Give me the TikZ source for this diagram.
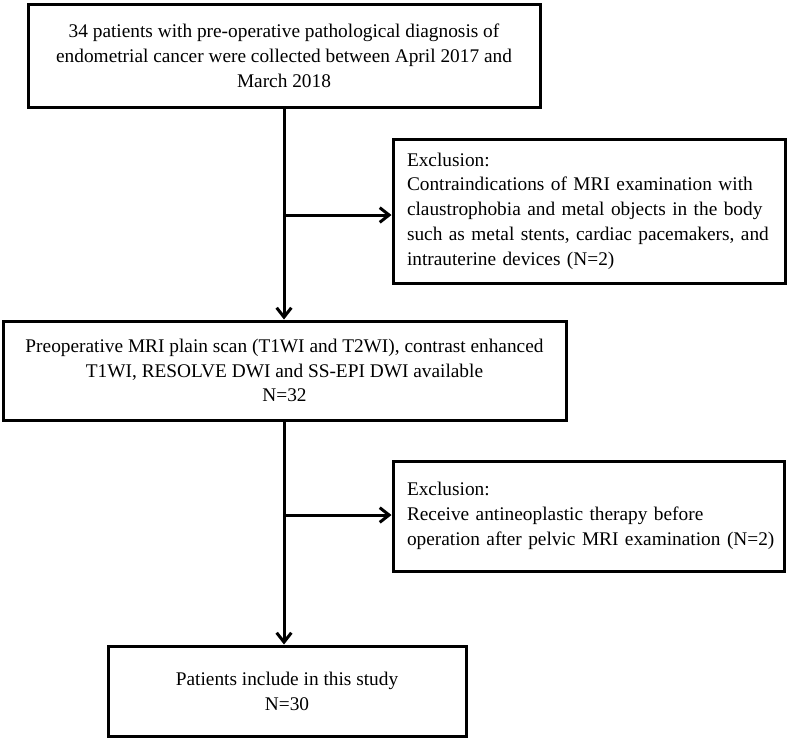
\documentclass[tikz,border=0pt]{standalone}
\usepackage{fontspec}
\setmainfont{Liberation Serif}
\usetikzlibrary{arrows.meta}
\begin{document}
\begin{tikzpicture}[x=0.75pt,y=-0.75pt,
  box/.style={draw, line width=2.25pt, inner sep=0pt, font=\fontsize{14.5pt}{18.6pt}\selectfont},
  cbox/.style={box, align=center},
  lbox/.style={box, align=left, inner xsep=10.5pt},
  arr/.style={line width=2.25pt, -{Straight Barb[length=7pt,width=11pt]}}]
\useasboundingbox (0,0) rectangle (787,740);

\node[cbox, minimum width=384pt, minimum height=77.25pt] (b1) at (284,55.5)
  {34 patients with pre-operative pathological diagnosis of\\
   endometrial cancer were collected between April 2017 and\\
   March 2018};

\node[lbox, text width=273pt, minimum width=294pt, minimum height=108pt] (b2) at (589,211)
  {Exclusion:\\
   \mbox{Contraindications of MRI examination with}\\
   \mbox{claustrophobia and metal objects in the body}\\
   \mbox{such as metal stents, cardiac pacemakers, and}\\
   intrauterine devices (N=2)};

\node[cbox, minimum width=422.25pt, minimum height=74.25pt] (b3) at (284.5,370.5)
  {Preoperative MRI plain scan (T1WI and T2WI), contrast enhanced\\
   T1WI, RESOLVE DWI and SS-EPI DWI available\\
   N=32};

\node[lbox, text width=272.25pt, minimum width=293.25pt, minimum height=82.5pt] (b4) at (588.5,516)
  {Exclusion:\\
   Receive antineoplastic therapy before\\
   \mbox{operation after pelvic MRI examination (N=2)}};

\node[cbox, minimum width=268.5pt, minimum height=67.5pt] (b5) at (287,691)
  {Patients include in this study\\
   N=30};

\coordinate (j1) at (284,215);
\coordinate (j2) at (284,515);

\draw[arr] (b1.south -| j1) -- (b3.north -| j1);
\draw[arr] (j1) -- (j1 -| b2.west);
\draw[arr] (b3.south -| j2) -- (b5.north -| j2);
\draw[arr] (j2) -- (j2 -| b4.west);
\end{tikzpicture}
\end{document}
